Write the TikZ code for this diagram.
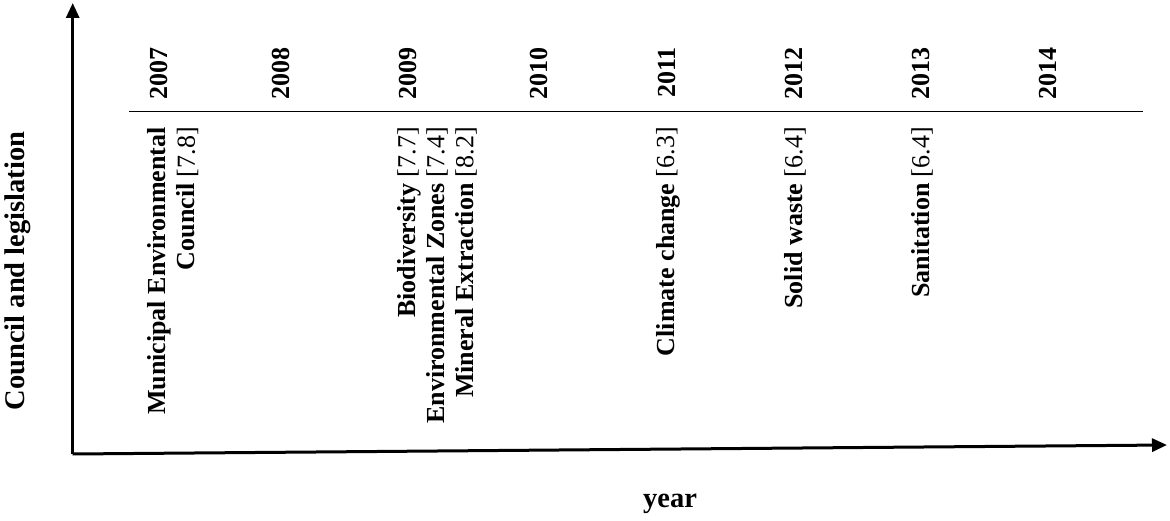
\documentclass[tikz,border=0pt]{standalone}
\usepackage{fontspec}
\setmainfont{Liberation Serif}
\usetikzlibrary{arrows.meta}
\begin{document}
\begin{tikzpicture}[x=1pt,y=-1pt,
  axis/.style={line width=3pt,-{Triangle[length=15pt,width=13pt]}},
  yearlbl/.style={rotate=90,anchor=east,inner sep=0pt,font=\fontsize{26}{28}\selectfont\bfseries},
  evt/.style={rotate=90,anchor=east,inner sep=0pt,align=right,font=\fontsize{26}{29}\selectfont},
  axlbl/.style={inner sep=0pt,font=\fontsize{28.5}{30}\selectfont\bfseries}]
\useasboundingbox (0,0) rectangle (1170,521);
\coordinate (o) at (72.7,454);
\coordinate (ytip) at (72.7,3);
\coordinate (xtip) at (1167,445);
\coordinate (la) at (129,111.7);
\coordinate (lb) at (1143,111.7);
\draw[axis] (o) -- (ytip);
\draw[axis] (o) -- (xtip);
\draw[line width=1.5pt] (la) -- (lb);
\node[yearlbl] (y2007) at (159,47) {2007};
\node[yearlbl] (y2008) at (280.5,47) {2008};
\node[yearlbl] (y2009) at (408,47) {2009};
\node[yearlbl] (y2010) at (539,47) {2010};
\node[yearlbl] (y2011) at (667,47) {2011};
\node[yearlbl] (y2012) at (794,47) {2012};
\node[yearlbl] (y2013) at (921,47) {2013};
\node[yearlbl] (y2014) at (1048,47) {2014};
\node[evt] (e1) at (173,127) {\textbf{Municipal Environmental}\\\textbf{Council} [7.8]};
\node[evt] (e2) at (437,127) {\textbf{Biodiversity} [7.7]\\\textbf{Environmental Zones} [7.4]\\\textbf{Mineral Extraction} [8.2]};
\node[evt] (e3) at (668,127) {\textbf{Climate change} [6.3]};
\node[evt] (e4) at (795,127) {\textbf{Solid waste} [6.4]};
\node[evt] (e5) at (922,127) {\textbf{Sanitation} [6.4]};
\node[axlbl,rotate=90,anchor=base] (ylab) at (24,271) {Council and legislation};
\node[axlbl,anchor=base] (xlab) at (670,507) {year};
\end{tikzpicture}
\end{document}
